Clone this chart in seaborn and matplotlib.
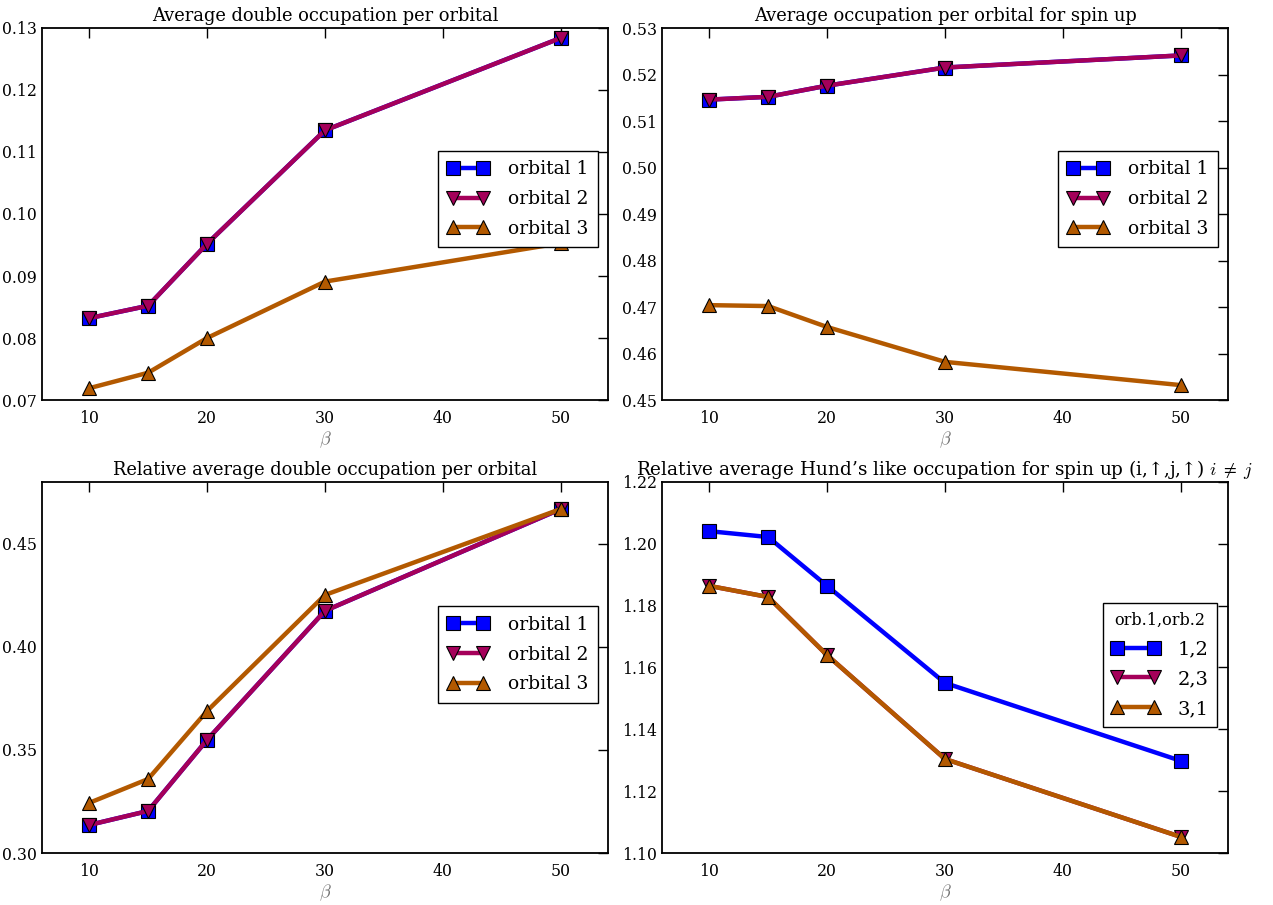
import matplotlib
matplotlib.use("Agg")
import matplotlib.pyplot as plt
import seaborn as sns
from matplotlib.ticker import MultipleLocator

# inverse temperatures
beta = [10, 15, 20, 30, 50]

# average double occupation per orbital
docc_orb1 = [0.0832, 0.0852, 0.0952, 0.1135, 0.1284]
docc_orb2 = [0.0832, 0.0852, 0.0952, 0.1135, 0.1284]
docc_orb3 = [0.0719, 0.0744, 0.0800, 0.0891, 0.0953]

# average occupation per orbital, spin up
nup_orb1 = [0.5146, 0.5152, 0.5176, 0.5215, 0.5241]
nup_orb2 = [0.5146, 0.5152, 0.5176, 0.5215, 0.5241]
nup_orb3 = [0.4704, 0.4702, 0.4657, 0.4582, 0.4532]

# relative average double occupation per orbital
rel_docc_orb1 = [0.3136, 0.3204, 0.3549, 0.4175, 0.4669]
rel_docc_orb2 = [0.3136, 0.3204, 0.3549, 0.4175, 0.4669]
rel_docc_orb3 = [0.3243, 0.3359, 0.3689, 0.4252, 0.4669]

# relative Hund's like occupation for spin up pairs
hund_12 = [1.2041, 1.2022, 1.1864, 1.1550, 1.1298]
hund_23 = [1.1864, 1.1828, 1.1640, 1.1304, 1.1052]
hund_31 = [1.1864, 1.1828, 1.1640, 1.1304, 1.1052]

orbital_labels = ["orbital 1", "orbital 2", "orbital 3"]
pair_labels = ["1,2", "2,3", "3,1"]

sns.set_theme(style="white")
plt.rcParams.update({
    "font.family": ["DejaVu Serif"],
    "mathtext.fontset": "cm",
    "xtick.direction": "in",
    "ytick.direction": "in",
    "xtick.top": True,
    "ytick.right": True,
    "xtick.major.size": 7,
    "ytick.major.size": 7,
    "xtick.major.width": 1.0,
    "ytick.major.width": 1.0,
    "xtick.major.pad": 7,
    "ytick.major.pad": 3.5,
    "axes.linewidth": 1.3,
    "axes.edgecolor": "black",
    "xtick.color": "black",
    "ytick.color": "black",
    "text.color": "black",
    "axes.labelcolor": "0.45",
    "legend.numpoints": 2,
})

colors = ["#0000ff", "#a5005a", "#b35900"]
markers = ["s", "v", "^"]

fig = plt.figure(figsize=(12.73, 9.05), dpi=100)
W, H = 1273, 905


def place(x0, y0, x1, y1):
    return fig.add_axes([x0 / W, 1 - y1 / H, (x1 - x0) / W, (y1 - y0) / H])


ax_tl = place(42, 28, 608, 400)
ax_tr = place(662, 28, 1228, 400)
ax_bl = place(42, 482, 608, 853)
ax_br = place(662, 482, 1228, 853)


def draw(ax, series, labels):
    for vals, lab, c, m in zip(series, labels, colors, markers):
        sns.lineplot(x=beta, y=vals, ax=ax, color=c, marker=m, markersize=10,
                     linewidth=3.2, markeredgecolor="black", markeredgewidth=0.8,
                     label=lab, legend=False)
    ax.set_xlim(6, 54)
    ax.xaxis.set_major_locator(MultipleLocator(10))
    ax.set_xlabel(r"$\beta$", fontsize=13, labelpad=2)
    ax.tick_params(labelsize=11.3)


draw(ax_tl, [docc_orb1, docc_orb2, docc_orb3], orbital_labels)
ax_tl.set_ylim(0.07, 0.13)
ax_tl.yaxis.set_major_locator(MultipleLocator(0.01))
ax_tl.set_title("Average double occupation per orbital", fontsize=12.9, pad=5)

draw(ax_tr, [nup_orb1, nup_orb2, nup_orb3], orbital_labels)
ax_tr.set_ylim(0.45, 0.53)
ax_tr.yaxis.set_major_locator(MultipleLocator(0.01))
ax_tr.set_title("Average occupation per orbital for spin up", fontsize=12.9, pad=5)

draw(ax_bl, [rel_docc_orb1, rel_docc_orb2, rel_docc_orb3], orbital_labels)
ax_bl.set_ylim(0.30, 0.48)
ax_bl.yaxis.set_major_locator(MultipleLocator(0.05))
ax_bl.set_title("Relative average double occupation per orbital", fontsize=12.9, pad=5)

draw(ax_br, [hund_12, hund_23, hund_31], pair_labels)
ax_br.set_ylim(1.10, 1.22)
ax_br.yaxis.set_major_locator(MultipleLocator(0.02))
ax_br.set_title("Relative average Hund\u2019s like occupation for spin up (i,\u2191,j,\u2191) $i\\;\\neq\\;j$",
                fontsize=13.3, pad=5)

legend_kw = dict(frameon=True, fancybox=False, framealpha=1, edgecolor="black",
                 borderaxespad=0.55)
for ax, yanch in [(ax_tl, 0.54), (ax_tr, 0.54), (ax_bl, 0.535)]:
    leg = ax.legend(loc="center right", bbox_to_anchor=(1, yanch), fontsize=13.5,
                    handlelength=2.25, handletextpad=1.0, borderpad=0.5,
                    labelspacing=0.63, **legend_kw)
    leg.get_frame().set_linewidth(1.0)

leg = ax_br.legend(loc="center right", bbox_to_anchor=(1, 0.507), fontsize=14,
                   title="orb.1,orb.2", title_fontsize=11.5,
                   handlelength=2.5, handletextpad=0.9, borderpad=0.45,
                   labelspacing=0.6, **legend_kw)
leg.get_frame().set_linewidth(1.0)

fig.savefig("out.png", dpi=100, facecolor="white")
